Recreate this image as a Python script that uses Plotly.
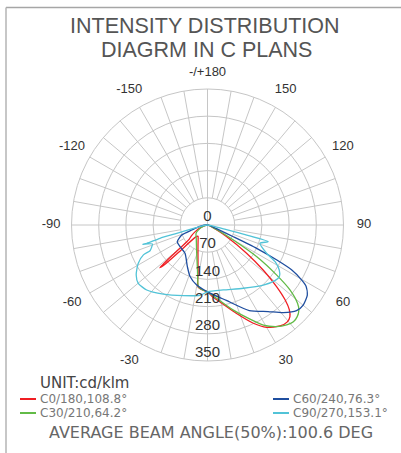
import plotly.graph_objects as go

W, H = 401, 453

# Gamma angle (deg, 0 = straight down, + toward C0 side) and intensity (cd/klm)
C0_THETA = [-90, -70, -62, -56, -52, -49.5, -48.2, -47.2, -46.5, -45, -40, -36, -25.4, -17.6,
            -11.9, -8.7, -4, 0, 4, 9, 18, 25, 30, 35.7, 39.5, 42, 44, 46, 48.3, 51, 54.2,
            58.6, 62, 68, 90]
C0_R = [0, 18, 35, 50, 60, 110, 165, 150, 100, 45, 38, 41, 57, 81,
        118, 161, 168, 172, 185, 200, 239, 279, 304, 320, 323, 317, 303, 278, 238, 185, 124,
        58, 25, 8, 0]

C30_THETA = [-90, -70, -60, -54, -40, -23.7, -12.5, -8.3, -4, 0, 7.1, 16.9, 24.3, 29.2, 34.2,
             38.4, 41.6, 44.4, 47.1, 49, 51.8, 54.1, 57.2, 59.8, 63, 70, 90]
C30_R = [0, 15, 28, 36.5, 45, 70, 119, 161, 168, 172, 190, 229, 266, 295, 316,
         328, 333, 330, 321, 307, 270, 220, 151, 77, 30, 8, 0]

C60_THETA = [-90, -80, -72.4, -68.8, -61.1, -51.7, -38.5, -25.8, -18.7, -10.2, 0, 14, 26, 35,
             40.8, 46.1, 50.1, 54.9, 58.1, 59.7, 61.9, 63.2, 64.6, 65.6, 68, 75, 90]
C60_R = [0, 20, 42, 71, 89, 90, 93, 119, 140, 157, 172, 200, 245, 272,
         298, 318, 321, 314, 299, 281, 246, 200, 140, 73, 25, 5, 0]

C90_THETA = [-90, -80, -76.9, -74.9, -74.4, -73.2, -73.4, -71, -68.2, -65.9, -65, -61, -55,
             -49.9, -43.1, -32.6, -18.9, -6.1, 0, 13.7, 29.5, 42.9, 50.5, 54.2, 57.9, 61.5,
             64.4, 70.8, 74.6, 75.5, 76.5, 80, 90]
C90_R = [0, 15, 37, 82, 127, 163, 174, 150, 155, 162, 182, 204, 224,
         233, 229, 211, 192, 182, 172, 172, 187, 211, 225, 228, 218, 198,
         169, 143, 162, 100, 40, 10, 0]

SERIES_NAMES = ["C0/180,108.8°", "C30/210,64.2°", "C60/240,76.3°", "C90/270,153.1°"]
SERIES_COLORS = ["#f01e23", "#62bb47", "#1f4e9f", "#52c3d7"]

RINGS = [70, 140, 210, 280, 350]
RADIAL_LABELS = ["0", "70", "140", "210", "280", "350"]
ANGLE_TICKS = list(range(30, 360, 30))
ANGLE_TEXT = ["30", "60", "90", "120", "150", "-/+180",
              "-150", "-120", "-90", "-60", "-30"]

TITLE_LINES = ["INTENSITY DISTRIBUTION", "DIAGRM IN C PLANS"]
UNIT_TEXT = "UNIT:cd/klm"
BEAM_TEXT = "AVERAGE BEAM ANGLE(50%):100.6 DEG"

GRID = "#c6c6c6"
R_MAX = RINGS[-1]
R_AXIS = R_MAX * 1.18    # axis extent leaves room for the angle labels
# angle labels sit just outside the outer ring, the top one a little closer
LABEL_R = [R_MAX * (1.12 if t == 180 else 1.15) for t in ANGLE_TICKS]


def px(x):
    return x / W


def py(y):
    return 1 - y / H


fig = go.Figure()

# spokes every 10 degrees; the four main axes run through the centre
sp_t, sp_r = [], []
for a in range(0, 360, 10):
    r0 = 0 if a % 90 == 0 else RINGS[0]
    sp_t += [a, a, None]
    sp_r += [r0, R_MAX, None]
fig.add_trace(go.Scatterpolar(theta=sp_t, r=sp_r, mode="lines",
                              line=dict(color=GRID, width=1),
                              hoverinfo="skip", showlegend=False))

for th, rr, name, col in zip([C0_THETA, C30_THETA, C60_THETA, C90_THETA],
                             [C0_R, C30_R, C60_R, C90_R],
                             SERIES_NAMES, SERIES_COLORS):
    fig.add_trace(go.Scatterpolar(theta=th, r=rr, mode="lines", name=name,
                                  line=dict(color=col, width=1.3, shape="spline", smoothing=0.6),
                                  hoverinfo="skip", showlegend=False))

# radial value labels along the 0 degree line
fig.add_trace(go.Scatterpolar(theta=[0] * len(RADIAL_LABELS),
                              r=[0] + RINGS, mode="text", text=RADIAL_LABELS,
                              textposition="top center",
                              textfont=dict(family="Liberation Sans", size=15, color="#333333"),
                              hoverinfo="skip", showlegend=False))

# angle labels around the outer ring
fig.add_trace(go.Scatterpolar(theta=ANGLE_TICKS, r=LABEL_R,
                              mode="text", text=ANGLE_TEXT, textposition="middle center",
                              textfont=dict(family="Liberation Sans", size=13, color="#333333"),
                              hoverinfo="skip", showlegend=False))

cx, cy, R = 207.5, 225, 136 * R_AXIS / R_MAX
fig.update_layout(
    width=W, height=H,
    margin=dict(l=0, r=0, t=0, b=0),
    paper_bgcolor="white",
    showlegend=False,
    polar=dict(
        domain=dict(x=[px(cx - R), px(cx + R)], y=[py(cy + R), py(cy - R)]),
        bgcolor="rgba(0,0,0,0)",
        radialaxis=dict(range=[0, R_AXIS], tickvals=RINGS, showticklabels=False,
                        showline=False, ticks="", gridcolor=GRID, gridwidth=1),
        angularaxis=dict(rotation=-90, direction="counterclockwise",
                         tickvals=ANGLE_TICKS, showticklabels=False, ticks="",
                         showgrid=False, showline=False),
    ),
)

annotations = [
    dict(x=px(205), y=py(26.5), text=TITLE_LINES[0]),
    dict(x=px(206), y=py(50), text=TITLE_LINES[1]),
]
for a in annotations:
    a.update(xref="paper", yref="paper", showarrow=False, xanchor="center", yanchor="middle",
             font=dict(family="Liberation Sans", size=21.5, color="#555555"))

annotations.append(dict(x=px(38), y=py(383), text=UNIT_TEXT, xref="paper", yref="paper",
                        showarrow=False, xanchor="left", yanchor="middle",
                        font=dict(family="DejaVu Sans", size=15, color="#444444")))
annotations.append(dict(x=px(211), y=py(432), text=BEAM_TEXT, xref="paper", yref="paper",
                        showarrow=False, xanchor="center", yanchor="middle",
                        font=dict(family="DejaVu Sans", size=16, color="#666666")))

shapes = [
    dict(type="line", xref="paper", yref="paper", x0=px(6), x1=1, y0=py(7.5), y1=py(7.5),
         line=dict(color="#a6a6a6", width=1.5)),
    dict(type="line", xref="paper", yref="paper", x0=px(6), x1=px(6), y0=0, y1=py(7.5),
         line=dict(color="#b4b4b4", width=1.5)),
]

# legend: two columns, two rows
legend_pos = [(20, 399), (20, 413), (273, 399), (273, 413)]
for (lx, ly), name, col in zip(legend_pos, SERIES_NAMES, SERIES_COLORS):
    shapes.append(dict(type="line", xref="paper", yref="paper", x0=px(lx), x1=px(lx + 16),
                       y0=py(ly), y1=py(ly), line=dict(color=col, width=2)))
    annotations.append(dict(x=px(lx + 18), y=py(ly), text=name, xref="paper", yref="paper",
                            showarrow=False, xanchor="left", yanchor="middle",
                            font=dict(family="DejaVu Sans", size=12, color="#777777")))

fig.update_layout(annotations=annotations, shapes=shapes)
fig.write_html("out.html")
